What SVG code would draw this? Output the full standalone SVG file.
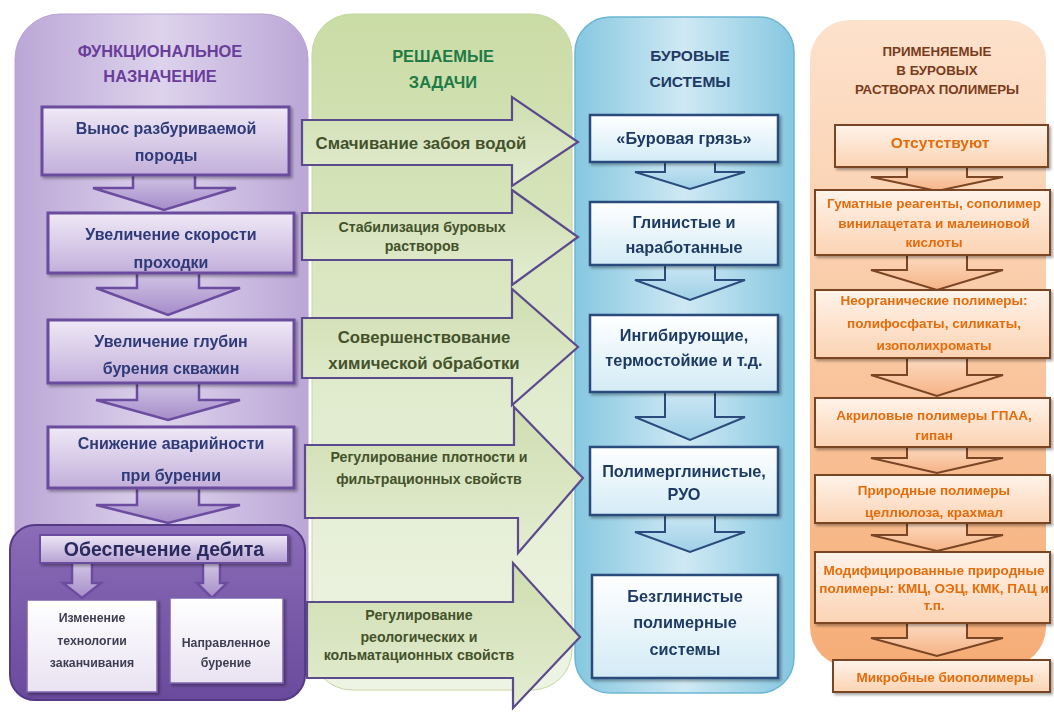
<svg xmlns="http://www.w3.org/2000/svg" width="1054" height="713" viewBox="0 0 1054 713">
<defs>
  <linearGradient id="gPurplePanel" x1="0" y1="0" x2="1" y2="0">
    <stop offset="0" stop-color="#bba6d6"/>
    <stop offset="0.5" stop-color="#ddd3ec"/>
    <stop offset="1" stop-color="#bba6d6"/>
  </linearGradient>
  <linearGradient id="gPurpleBox" x1="0" y1="0" x2="0" y2="1">
    <stop offset="0" stop-color="#efe9f6"/>
    <stop offset="1" stop-color="#c3afdb"/>
  </linearGradient>
  <linearGradient id="gPurpleArrow" x1="0" y1="0" x2="0" y2="1">
    <stop offset="0" stop-color="#d7cbe8"/>
    <stop offset="1" stop-color="#a58cc9"/>
  </linearGradient>
  <linearGradient id="gDarkPanel" x1="0" y1="0" x2="0" y2="1">
    <stop offset="0" stop-color="#8a6cb8"/>
    <stop offset="1" stop-color="#6a4a9c"/>
  </linearGradient>
  <linearGradient id="gDebit" x1="0" y1="0" x2="0" y2="1">
    <stop offset="0" stop-color="#eee8f5"/>
    <stop offset="1" stop-color="#b6a1d4"/>
  </linearGradient>
  <linearGradient id="gSubBox" x1="0" y1="0" x2="0" y2="1">
    <stop offset="0" stop-color="#ffffff"/>
    <stop offset="1" stop-color="#e9e2f2"/>
  </linearGradient>
  <linearGradient id="gGreenPanel" x1="0" y1="0" x2="0" y2="1">
    <stop offset="0" stop-color="#cadca6"/>
    <stop offset="0.6" stop-color="#e2ecd0"/>
    <stop offset="1" stop-color="#eef4e4"/>
  </linearGradient>
  <linearGradient id="gGreenArrow" x1="0" y1="0" x2="0" y2="1">
    <stop offset="0" stop-color="#cfdeb0"/>
    <stop offset="1" stop-color="#e3ecd2"/>
  </linearGradient>
  <linearGradient id="gBluePanel" x1="0" y1="0" x2="1" y2="0">
    <stop offset="0" stop-color="#86c7e0"/>
    <stop offset="0.5" stop-color="#cfe9f4"/>
    <stop offset="1" stop-color="#86c7e0"/>
  </linearGradient>
  <linearGradient id="gBlueBox" x1="0" y1="0" x2="0" y2="1">
    <stop offset="0" stop-color="#ffffff"/>
    <stop offset="1" stop-color="#d3ebf6"/>
  </linearGradient>
  <linearGradient id="gBlueArrow" x1="0" y1="0" x2="0" y2="1">
    <stop offset="0" stop-color="#cfe9f5"/>
    <stop offset="1" stop-color="#9fd0e6"/>
  </linearGradient>
  <linearGradient id="gOrangePanel" x1="0" y1="0" x2="0" y2="1">
    <stop offset="0" stop-color="#fde2cc"/>
    <stop offset="1" stop-color="#f6ad77"/>
  </linearGradient>
  <linearGradient id="gOrangeBox" x1="0" y1="0" x2="0" y2="1">
    <stop offset="0" stop-color="#fff3ea"/>
    <stop offset="1" stop-color="#fbd3b3"/>
  </linearGradient>
  <linearGradient id="gOrangeArrow" x1="0" y1="0" x2="0" y2="1">
    <stop offset="0" stop-color="#fde0c8"/>
    <stop offset="1" stop-color="#f6b386"/>
  </linearGradient>
  <filter id="shadow" x="-10%" y="-10%" width="130%" height="140%">
    <feDropShadow dx="2" dy="2" stdDeviation="1.5" flood-color="#000" flood-opacity="0.35"/>
  </filter>
  <style>
    text { font-family: "Liberation Sans", Arial, sans-serif; font-weight: bold; text-anchor: middle; }
    .pTitle { fill: #6a3d9a; font-size: 16.4px; }
    .pText { fill: #2e3a78; font-size: 16px; }
    .pBox { fill: url(#gPurpleBox); stroke: #6b4c9e; stroke-width: 3; }
    .pArrow { fill: url(#gPurpleArrow); stroke: #6b4c9e; stroke-width: 2.5; stroke-linejoin: miter; }
    .debitText { fill: #2b2b5e; font-size: 19.5px; }
    .subBox { fill: url(#gSubBox); stroke: #7d63ad; stroke-width: 1.5; }
    .subText { fill: #3e3e52; font-size: 12.3px; }
    .gTitle { fill: #1e7b45; font-size: 16.4px; }
    .gArrow { fill: url(#gGreenArrow); stroke: #5b4a8c; stroke-width: 2.2; stroke-linejoin: miter; }
    .gText { fill: #44522b; font-size: 16.8px; }
    .gTextS { fill: #44522b; font-size: 14.2px; }
    .bTitle { fill: #1f3a64; font-size: 15.5px; }
    .bBox { fill: url(#gBlueBox); stroke: #2b4b7c; stroke-width: 2.5; }
    .bArrow { fill: url(#gBlueArrow); stroke: #2b4b7c; stroke-width: 2; }
    .bText { fill: #1f3a64; font-size: 16.3px; }
    .oTitle { fill: #7a3b1b; font-size: 13.3px; }
    .oBox { fill: url(#gOrangeBox); stroke: #7a4524; stroke-width: 2; }
    .oArrow { fill: url(#gOrangeArrow); stroke: #7a4524; stroke-width: 2; }
    .oText { fill: #e36c09; font-size: 13.5px; }
    .oTextL { fill: #e36c09; font-size: 15.5px; }
  </style>
</defs>

<rect width="1054" height="713" fill="#ffffff"/>

<!-- Column backgrounds -->
<g id="column-purple">
  <rect x="15" y="14" width="293" height="640" rx="45" fill="url(#gPurplePanel)" stroke="#b7a3d3" stroke-width="1"/>
  <text class="pTitle" x="160" y="57">ФУНКЦИОНАЛЬНОЕ</text>
  <text class="pTitle" x="160" y="82">НАЗНАЧЕНИЕ</text>
  <rect x="10" y="525" width="295" height="175" rx="25" fill="url(#gDarkPanel)" stroke="#563a86" stroke-width="2"/>
</g>
<g id="column-green">
  <rect x="312" y="14" width="260" height="676" rx="40" fill="url(#gGreenPanel)" stroke="#c5d7a2" stroke-width="1"/>
  <text class="gTitle" x="443" y="62">РЕШАЕМЫЕ</text>
  <text class="gTitle" x="443" y="88">ЗАДАЧИ</text>
</g>
<g id="column-blue">
  <rect x="575" y="17" width="219" height="676" rx="35" fill="url(#gBluePanel)" stroke="#6cb6d3" stroke-width="1.5"/>
  <text class="bTitle" x="690" y="61">БУРОВЫЕ</text>
  <text class="bTitle" x="690" y="87">СИСТЕМЫ</text>
</g>
<g id="column-orange">
  <rect x="810" y="20" width="236" height="647" rx="40" fill="url(#gOrangePanel)"/>
  <text class="oTitle" x="937" y="56">ПРИМЕНЯЕМЫЕ</text>
  <text class="oTitle" x="937" y="75">В БУРОВЫХ</text>
  <text class="oTitle" x="937" y="94">РАСТВОРАХ ПОЛИМЕРЫ</text>
</g>

<!-- Connectors (down block arrows) -->
<g id="connectors">
  <!-- purple -->
  <polygon class="pArrow" points="133,170 195,170 195,188 236,188 164,210 93,188 133,188"/>
  <polygon class="pArrow" points="137,268 199,268 199,288 240,288 168,315 96,288 137,288"/>
  <polygon class="pArrow" points="137,378 199,378 199,400 240,400 168,420 96,400 137,400"/>
  <polygon class="pArrow" points="137,483 199,483 199,505 240,505 168,523 96,505 137,505"/>
  <polygon class="pArrow" points="72,560 92,560 92,583 101,583 82,598 63,583 72,583"/>
  <polygon class="pArrow" points="203,560 220,560 220,583 227,583 212,598 197,583 203,583"/>
  <!-- blue -->
  <polygon class="bArrow" points="665,158 715,158 715,172 745,172 690,189 635,172 665,172"/>
  <polygon class="bArrow" points="665,260 715,260 715,280 745,280 690,300 635,280 665,280"/>
  <polygon class="bArrow" points="665,388 715,388 715,417 745,417 690,440 635,417 665,417"/>
  <polygon class="bArrow" points="665,510 715,510 715,532 745,532 690,552 635,532 665,532"/>
  <!-- orange -->
  <polygon class="oArrow" points="907,163 967,163 967,177 1003,177 937,191 871,177 907,177"/>
  <polygon class="oArrow" points="907,250 967,250 967,270 1003,270 937,290 871,270 907,270"/>
  <polygon class="oArrow" points="907,353 967,353 967,375 1003,375 937,396 871,375 907,375"/>
  <polygon class="oArrow" points="907,443 967,443 967,458 1003,458 937,473 871,458 907,458"/>
  <polygon class="oArrow" points="907,518 967,518 967,535 1003,535 937,551 871,535 907,535"/>
  <polygon class="oArrow" points="907,618 967,618 967,638 1003,638 937,656 871,638 907,638"/>
</g>

<!-- Purple nodes -->
<g id="f1" filter="url(#shadow)">
  <rect class="pBox" x="42" y="107" width="247" height="68"/>
  <text class="pText" x="166" y="134">Вынос разбуриваемой</text>
  <text class="pText" x="166" y="161">породы</text>
</g>
<g id="f2" filter="url(#shadow)">
  <rect class="pBox" x="48" y="213" width="246" height="60"/>
  <text class="pText" x="171" y="240">Увеличение скорости</text>
  <text class="pText" x="171" y="268">проходки</text>
</g>
<g id="f3" filter="url(#shadow)">
  <rect class="pBox" x="48" y="320" width="246" height="63"/>
  <text class="pText" x="171" y="347">Увеличение глубин</text>
  <text class="pText" x="171" y="374">бурения скважин</text>
</g>
<g id="f4" filter="url(#shadow)">
  <rect class="pBox" x="48" y="427" width="246" height="61"/>
  <text class="pText" x="171" y="449">Снижение аварийности</text>
  <text class="pText" x="171" y="481">при бурении</text>
</g>
<g id="f5" filter="url(#shadow)">
  <rect x="40" y="535" width="248" height="28" fill="url(#gDebit)" stroke="#6b4c9e" stroke-width="2"/>
  <text class="debitText" x="164" y="556">Обеспечение дебита</text>
</g>
<g id="f5a" filter="url(#shadow)">
  <rect class="subBox" x="27" y="600" width="130" height="92"/>
  <text class="subText" x="92" y="622">Изменение</text>
  <text class="subText" x="92" y="645">технологии</text>
  <text class="subText" x="92" y="667">заканчивания</text>
</g>
<g id="f5b" filter="url(#shadow)">
  <rect class="subBox" x="170" y="598" width="113" height="85"/>
  <text class="subText" x="226" y="647">Направленное</text>
  <text class="subText" x="226" y="667">бурение</text>
</g>

<!-- Green task arrows -->
<g id="t1">
  <polygon class="gArrow" points="302,120 512,120 512,97 578,142 512,186 512,165 302,165"/>
  <text class="gText" x="421" y="149">Смачивание забоя водой</text>
</g>
<g id="t2">
  <polygon class="gArrow" points="302,213 512,213 512,190 578,237 512,285 512,260 302,260"/>
  <text class="gTextS" x="422" y="232">Стабилизация буровых</text>
  <text class="gTextS" x="422" y="251">растворов</text>
</g>
<g id="t3">
  <polygon class="gArrow" points="302,318 512,318 512,289 578,347 512,405 512,378 302,378"/>
  <text class="gText" x="424" y="343">Совершенствование</text>
  <text class="gText" x="424" y="369">химической обработки</text>
</g>
<g id="t4">
  <polygon class="gArrow" points="305,445 514,445 514,407 583,478 518,553 518,518 305,518"/>
  <text class="gTextS" x="429" y="462">Регулирование плотности и</text>
  <text class="gTextS" x="429" y="484">фильтрационных свойств</text>
</g>
<g id="t5">
  <polygon class="gArrow" points="307,602 513,602 513,563 580,637 513,708 513,678 307,678"/>
  <text class="gTextS" x="419" y="620">Регулирование</text>
  <text class="gTextS" x="419" y="642">реологических и</text>
  <text class="gTextS" x="419" y="660">кольматационных свойств</text>
</g>

<!-- Blue nodes -->
<g id="s1" filter="url(#shadow)">
  <rect class="bBox" x="590" y="115" width="188" height="47"/>
  <text class="bText" x="684" y="144">«Буровая грязь»</text>
</g>
<g id="s2" filter="url(#shadow)">
  <rect class="bBox" x="590" y="202" width="188" height="63"/>
  <text class="bText" x="684" y="228">Глинистые и</text>
  <text class="bText" x="684" y="253">наработанные</text>
</g>
<g id="s3" filter="url(#shadow)">
  <rect class="bBox" x="590" y="315" width="188" height="77"/>
  <text class="bText" x="684" y="341">Ингибирующие,</text>
  <text class="bText" x="684" y="366">термостойкие и т.д.</text>
</g>
<g id="s4" filter="url(#shadow)">
  <rect class="bBox" x="590" y="447" width="188" height="68"/>
  <text class="bText" x="684" y="477">Полимерглинистые,</text>
  <text class="bText" x="684" y="500">РУО</text>
</g>
<g id="s5" filter="url(#shadow)">
  <rect class="bBox" x="592" y="575" width="186" height="103"/>
  <text class="bText" x="685" y="602">Безглинистые</text>
  <text class="bText" x="685" y="628">полимерные</text>
  <text class="bText" x="685" y="655">системы</text>
</g>

<!-- Orange nodes -->
<g id="p1" filter="url(#shadow)">
  <rect class="oBox" x="835" y="125" width="213" height="42"/>
  <text class="oTextL" x="940" y="148">Отсутствуют</text>
</g>
<g id="p2" filter="url(#shadow)">
  <rect class="oBox" x="815" y="190" width="235" height="65"/>
  <text class="oText" x="934" y="208">Гуматные реагенты, сополимер</text>
  <text class="oText" x="934" y="228">винилацетата и малеиновой</text>
  <text class="oText" x="934" y="247">кислоты</text>
</g>
<g id="p3" filter="url(#shadow)">
  <rect class="oBox" x="815" y="290" width="235" height="68"/>
  <text class="oText" x="934" y="305">Неорганические полимеры:</text>
  <text class="oText" x="934" y="328">полифосфаты, силикаты,</text>
  <text class="oText" x="934" y="350">изополихроматы</text>
</g>
<g id="p4" filter="url(#shadow)">
  <rect class="oBox" x="815" y="398" width="235" height="49"/>
  <text class="oText" x="934" y="420">Акриловые полимеры ГПАА,</text>
  <text class="oText" x="934" y="440">гипан</text>
</g>
<g id="p5" filter="url(#shadow)">
  <rect class="oBox" x="815" y="475" width="235" height="48"/>
  <text class="oText" x="934" y="495">Природные полимеры</text>
  <text class="oText" x="934" y="517">целлюлоза, крахмал</text>
</g>
<g id="p6" filter="url(#shadow)">
  <rect class="oBox" x="815" y="552" width="235" height="71"/>
  <text class="oText" x="934" y="575">Модифицированные природные</text>
  <text class="oText" x="934" y="593">полимеры: КМЦ, ОЭЦ, КМК, ПАЦ и</text>
  <text class="oText" x="934" y="610">т.п.</text>
</g>
<g id="p7" filter="url(#shadow)">
  <rect class="oBox" x="833" y="660" width="217" height="32"/>
  <text class="oText" x="945" y="682">Микробные биополимеры</text>
</g>
</svg>
